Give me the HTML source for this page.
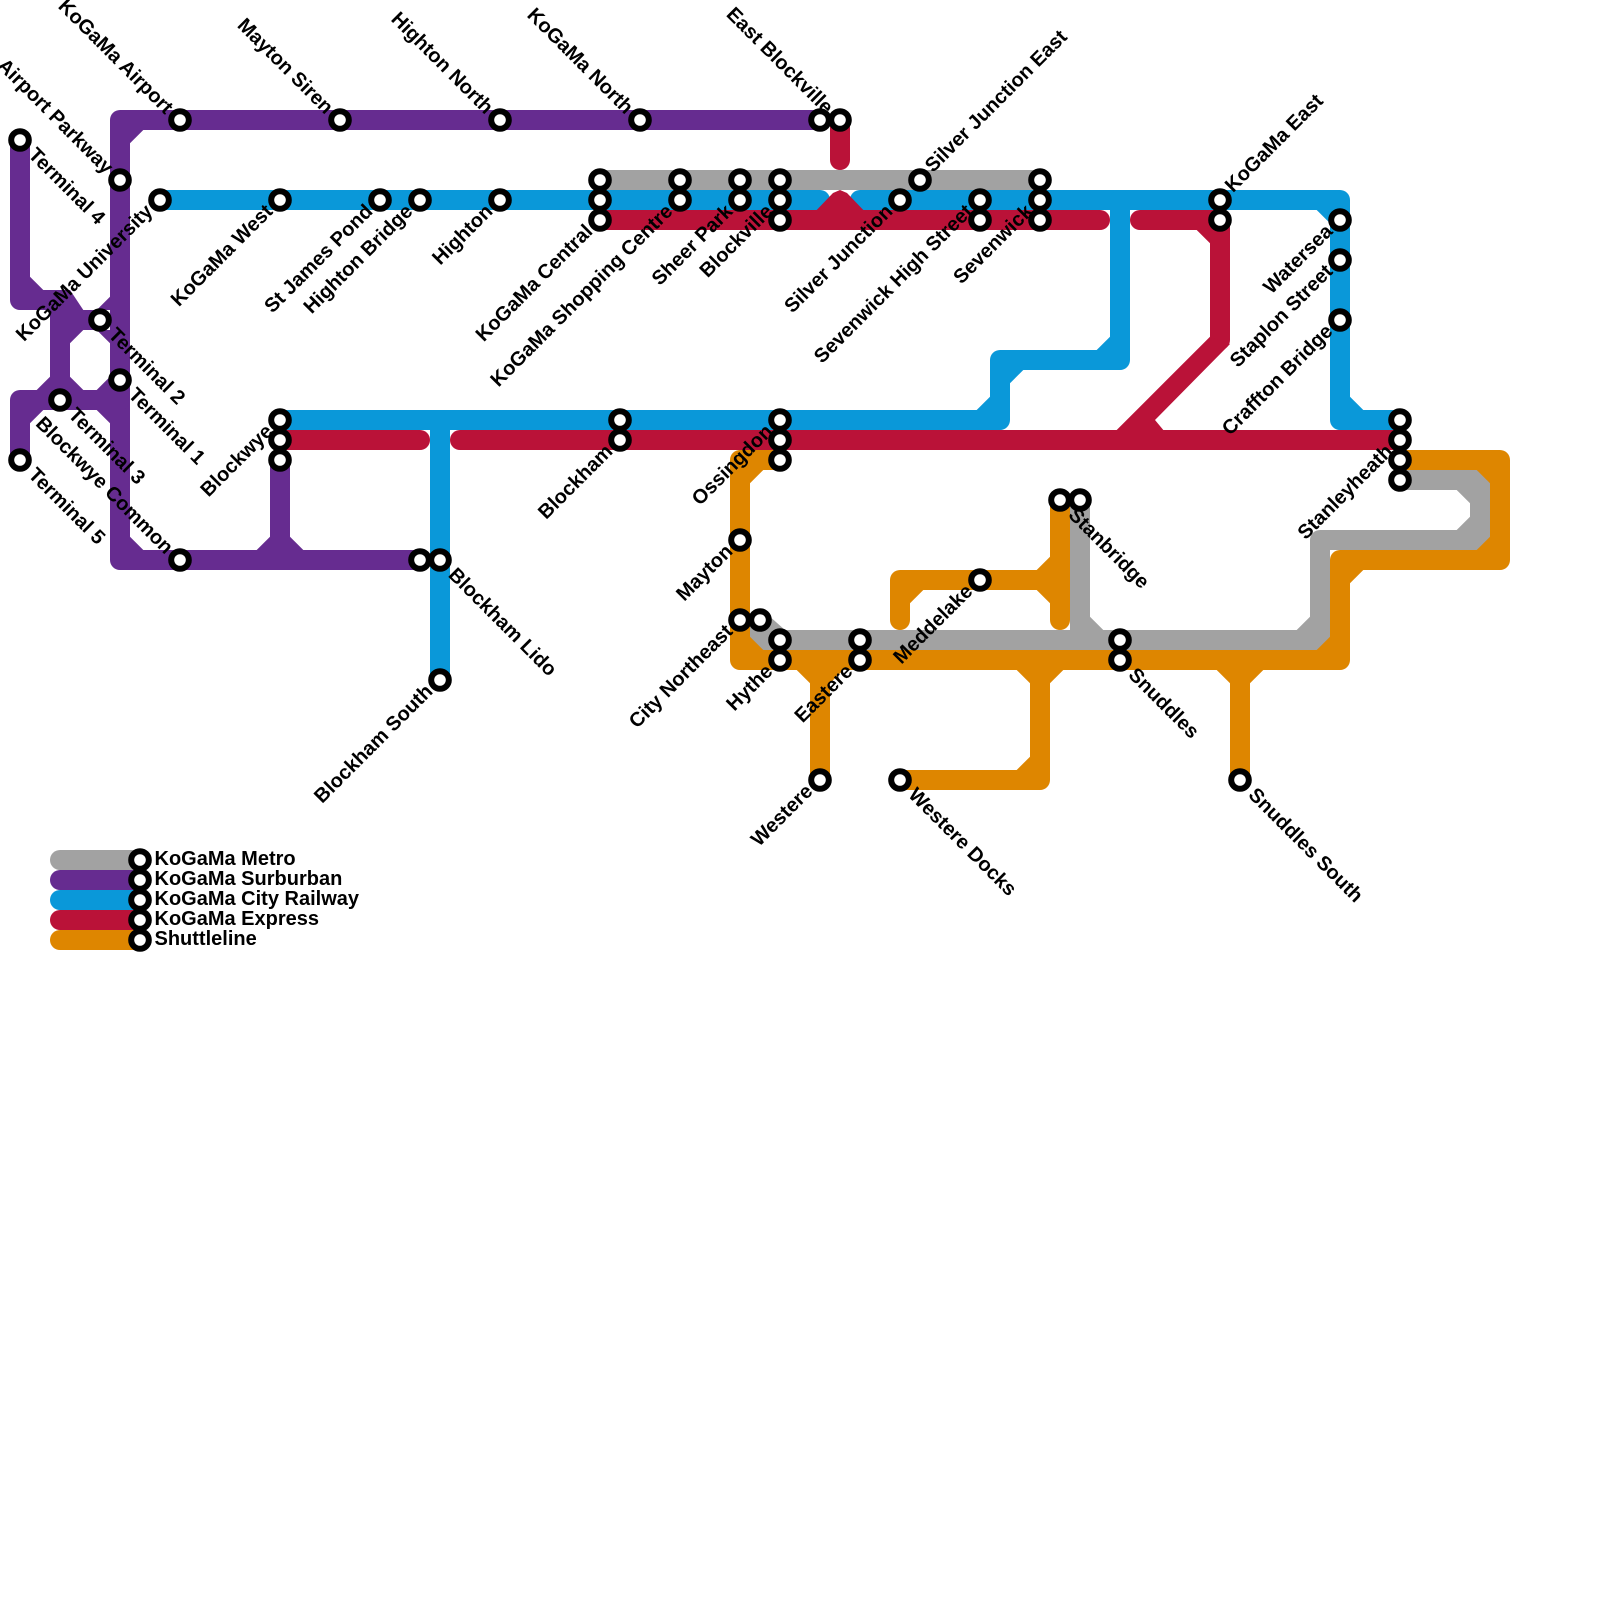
<!DOCTYPE html>
<html><head><meta charset="utf-8"><style>
html,body{margin:0;padding:0;background:#fff}
svg{display:block}
text{font-family:"Liberation Sans",sans-serif;font-weight:bold;font-size:20px;fill:#000}
.l{fill:none;stroke-width:20;stroke-linecap:round;stroke-linejoin:round}
.s circle{fill:#fff;stroke:#000;stroke-width:6}
</style></head><body>
<svg width="1600" height="1600" viewBox="0 0 1600 1600" xmlns="http://www.w3.org/2000/svg">
<rect width="1600" height="1600" fill="#fff"/>
<!-- gray -->
<g stroke="#a2a2a2" class="l">
<path d="M600 180H1040"/>
<path d="M780 640H1320V540H1480V480H1400"/>
<path d="M1080 500V640"/>
<path d="M60 860H140"/>
</g>
<g fill="#a2a2a2">
<polygon points="750,620 771.7,618.3 785,630 785,650 750,650"/>
<polygon points="1090,616.7 1103.3,630 1090,630"/>
<polygon points="1310,630 1310,616.7 1296.7,630"/>
<polygon points="1470,530 1456.7,530 1470,516.7"/>
<polygon points="1470,490 1456.7,490 1470,503.3"/>
</g>
<!-- purple -->
<g stroke="#662c90" class="l">
<path d="M820 120H120V560H420"/>
<path d="M20 140V300H60V400"/>
<path d="M60 320H100"/>
<path d="M20 460V400H120"/>
<path d="M280 460V560"/>
<path d="M60 880H140"/>
</g>
<g fill="#662c90">
<polygon points="130,130 130,143.3 143.3,130"/>
<polygon points="30,290 30,276.7 43.3,290"/>
<polygon points="60,290 70,290 83.3,310 60,310"/>
<polygon points="110,310 110,296.7 96.7,310"/>
<polygon points="70,330 83.3,330 70,343.3"/>
<polygon points="110,330 96.7,330 110,343.3"/>
<polygon points="70,390 70,376.7 83.3,390"/>
<polygon points="110,390 110,376.7 96.7,390"/>
<polygon points="50,390 50,376.7 36.7,390"/>
<polygon points="30,410 43.3,410 30,423.3"/>
<polygon points="110,410 96.7,410 110,423.3"/>
<polygon points="130,550 130,536.7 143.3,550"/>
<polygon points="270,550 270,536.7 256.7,550"/>
<polygon points="290,550 290,536.7 303.3,550"/>
</g>
<!-- blue -->
<g stroke="#0a98d9" class="l">
<path d="M160 200H820"/>
<path d="M860 200H1340V420H1400"/>
<path d="M1120 200V360H1000V420H280"/>
<path d="M440 420V680"/>
<path d="M60 900H140"/>
</g>
<g fill="#0a98d9">
<polygon points="1330,210 1316.7,210 1330,223.3"/>
<polygon points="1350,410 1350,396.7 1363.3,410"/>
<polygon points="1110,350 1110,336.7 1096.7,350"/>
<polygon points="1010,370 1010,383.3 1023.3,370"/>
<polygon points="990,410 990,396.7 976.7,410"/>
</g>
<!-- red -->
<g stroke="#ba1238" class="l">
<path d="M600 220H1100"/>
<path d="M1140 220H1220V340"/>
<path d="M280 440H420"/>
<path d="M460 440H1400"/>
<path d="M840 120V160"/>
<path d="M60 920H140"/>
</g>
<g fill="#ba1238">
<polygon points="816.7,210 833,193 840,190 847,193 863.3,210 863.3,230 816.7,230"/>
<polygon points="1210,230 1196.7,230 1210,243.3"/>
<polygon points="1210,336.7 1230,344 1155,420 1163.3,430 1116.7,430"/>
</g>
<!-- orange -->
<g stroke="#de8600" class="l">
<path d="M780 460H740V660H1340V560H1500V460H1400"/>
<path d="M820 660V780"/>
<path d="M1040 660V780H900"/>
<path d="M1240 660V780"/>
<path d="M900 620V580H1060"/>
<path d="M1060 500V620"/>
<path d="M60 940H140"/>
</g>
<g fill="#de8600">
<polygon points="750,470 750,483.3 763.3,470"/>
<polygon points="750,650 750,636.7 763.3,650"/>
<polygon points="796.7,670 810,683.3 810,670"/>
<polygon points="830,670 830,683.3 843.3,670"/>
<polygon points="1016.7,670 1030,683.3 1030,670"/>
<polygon points="1050,670 1050,683.3 1063.3,670"/>
<polygon points="1216.7,670 1230,683.3 1230,670"/>
<polygon points="1250,670 1250,683.3 1263.3,670"/>
<polygon points="1030,770 1030,756.7 1016.7,770"/>
<polygon points="910,590 910,603.3 923.3,590"/>
<polygon points="1050,570 1050,556.7 1036.7,570"/>
<polygon points="1050,590 1050,603.3 1036.7,590"/>
<polygon points="1330,650 1330,636.7 1316.7,650"/>
<polygon points="1350,570 1350,583.3 1363.3,570"/>
<polygon points="1490,470 1476.7,470 1490,483.3"/>
<polygon points="1490,550 1476.7,550 1490,536.7"/>
</g>
<!-- stations -->
<g class="s">
<circle cx="20" cy="140" r="8.8"/><circle cx="120" cy="180" r="8.8"/><circle cx="180" cy="120" r="8.8"/><circle cx="340" cy="120" r="8.8"/><circle cx="500" cy="120" r="8.8"/><circle cx="640" cy="120" r="8.8"/><circle cx="820" cy="120" r="8.8"/><circle cx="840" cy="120" r="8.8"/>
<circle cx="160" cy="200" r="8.8"/><circle cx="280" cy="200" r="8.8"/><circle cx="380" cy="200" r="8.8"/><circle cx="420" cy="200" r="8.8"/><circle cx="500" cy="200" r="8.8"/>
<circle cx="600" cy="180" r="8.8"/><circle cx="600" cy="200" r="8.8"/><circle cx="600" cy="220" r="8.8"/>
<circle cx="680" cy="180" r="8.8"/><circle cx="680" cy="200" r="8.8"/>
<circle cx="740" cy="180" r="8.8"/><circle cx="740" cy="200" r="8.8"/>
<circle cx="780" cy="180" r="8.8"/><circle cx="780" cy="200" r="8.8"/><circle cx="780" cy="220" r="8.8"/>
<circle cx="900" cy="200" r="8.8"/><circle cx="920" cy="180" r="8.8"/>
<circle cx="980" cy="200" r="8.8"/><circle cx="980" cy="220" r="8.8"/>
<circle cx="1040" cy="180" r="8.8"/><circle cx="1040" cy="200" r="8.8"/><circle cx="1040" cy="220" r="8.8"/>
<circle cx="1220" cy="200" r="8.8"/><circle cx="1220" cy="220" r="8.8"/>
<circle cx="1340" cy="220" r="8.8"/><circle cx="1340" cy="260" r="8.8"/><circle cx="1340" cy="320" r="8.8"/>
<circle cx="1400" cy="420" r="8.8"/><circle cx="1400" cy="440" r="8.8"/><circle cx="1400" cy="460" r="8.8"/><circle cx="1400" cy="480" r="8.8"/>
<circle cx="100" cy="320" r="8.8"/><circle cx="120" cy="380" r="8.8"/><circle cx="60" cy="400" r="8.8"/><circle cx="20" cy="460" r="8.8"/>
<circle cx="280" cy="420" r="8.8"/><circle cx="280" cy="440" r="8.8"/><circle cx="280" cy="460" r="8.8"/>
<circle cx="180" cy="560" r="8.8"/><circle cx="420" cy="560" r="8.8"/><circle cx="440" cy="560" r="8.8"/><circle cx="440" cy="680" r="8.8"/>
<circle cx="620" cy="420" r="8.8"/><circle cx="620" cy="440" r="8.8"/>
<circle cx="780" cy="420" r="8.8"/><circle cx="780" cy="440" r="8.8"/><circle cx="780" cy="460" r="8.8"/>
<circle cx="740" cy="540" r="8.8"/><circle cx="740" cy="620" r="8.8"/><circle cx="760" cy="620" r="8.8"/>
<circle cx="780" cy="640" r="8.8"/><circle cx="780" cy="660" r="8.8"/><circle cx="860" cy="640" r="8.8"/><circle cx="860" cy="660" r="8.8"/>
<circle cx="820" cy="780" r="8.8"/><circle cx="900" cy="780" r="8.8"/><circle cx="980" cy="580" r="8.8"/>
<circle cx="1060" cy="500" r="8.8"/><circle cx="1080" cy="500" r="8.8"/>
<circle cx="1120" cy="640" r="8.8"/><circle cx="1120" cy="660" r="8.8"/><circle cx="1240" cy="780" r="8.8"/>
<circle cx="140" cy="860" r="8.8"/><circle cx="140" cy="880" r="8.8"/><circle cx="140" cy="900" r="8.8"/><circle cx="140" cy="920" r="8.8"/><circle cx="140" cy="940" r="8.8"/>
</g>
<!-- labels -->
<g text-anchor="end">
<text transform="translate(180,120) rotate(45) translate(-14,0)" dy=".35em">KoGaMa Airport</text>
<text transform="translate(340,120) rotate(45) translate(-14,0)" dy=".35em">Mayton Siren</text>
<text transform="translate(500,120) rotate(45) translate(-14,0)" dy=".35em">Highton North</text>
<text transform="translate(640,120) rotate(45) translate(-14,0)" dy=".35em">KoGaMa North</text>
<text transform="translate(840,120) rotate(45) translate(-14,0)" dy=".35em">East Blockville</text>
<text transform="translate(120,180) rotate(45) translate(-14,0)" dy=".35em">Airport Parkway</text>
<text transform="translate(180,560) rotate(45) translate(-14,0)" dy=".35em">Blockwye Common</text>
</g>
<g>
<text transform="translate(20,140) rotate(45) translate(16.5,0)" dy=".3em">Terminal 4</text>
<text transform="translate(100,320) rotate(45) translate(16.5,0)" dy=".3em">Terminal 2</text>
<text transform="translate(120,380) rotate(45) translate(16.5,0)" dy=".3em">Terminal 1</text>
<text transform="translate(60,400) rotate(45) translate(16.5,0)" dy=".3em">Terminal 3</text>
<text transform="translate(20,460) rotate(45) translate(16.5,0)" dy=".3em">Terminal 5</text>
<text transform="translate(440,560) rotate(45) translate(16.5,0)" dy=".3em">Blockham Lido</text>
<text transform="translate(1060,500) rotate(45) translate(16.5,0)" dy=".3em">Stanbridge</text>
<text transform="translate(1120,660) rotate(45) translate(16.5,0)" dy=".3em">Snuddles</text>
<text transform="translate(900,780) rotate(45) translate(16.5,0)" dy=".3em">Westere Docks</text>
<text transform="translate(1240,780) rotate(45) translate(16.5,0)" dy=".3em">Snuddles South</text>
<text transform="translate(920,180) rotate(-45) translate(14,0)" dy=".22em">Silver Junction East</text>
<text transform="translate(1220,200) rotate(-45) translate(14,0)" dy=".22em">KoGaMa East</text>
</g>
<g text-anchor="end">
<text transform="translate(160,200) rotate(-45) translate(-13.3,0)" dy=".22em">KoGaMa University</text>
<text transform="translate(280,200) rotate(-45) translate(-13.3,0)" dy=".22em">KoGaMa West</text>
<text transform="translate(380,200) rotate(-45) translate(-13.3,0)" dy=".22em">St James Pond</text>
<text transform="translate(420,200) rotate(-45) translate(-13.3,0)" dy=".22em">Highton Bridge</text>
<text transform="translate(500,200) rotate(-45) translate(-13.3,0)" dy=".22em">Highton</text>
<text transform="translate(600,220) rotate(-45) translate(-13.3,0)" dy=".22em">KoGaMa Central</text>
<text transform="translate(680,200) rotate(-45) translate(-13.3,0)" dy=".22em">KoGaMa Shopping Centre</text>
<text transform="translate(740,200) rotate(-45) translate(-13.3,0)" dy=".22em">Sheer Park</text>
<text transform="translate(780,200) rotate(-45) translate(-13.3,0)" dy=".22em">Blockville</text>
<text transform="translate(900,200) rotate(-45) translate(-13.3,0)" dy=".22em">Silver Junction</text>
<text transform="translate(980,200) rotate(-45) translate(-13.3,0)" dy=".22em">Sevenwick High Street</text>
<text transform="translate(1040,200) rotate(-45) translate(-13.3,0)" dy=".22em">Sevenwick</text>
<text transform="translate(1340,220) rotate(-45) translate(-13.3,0)" dy=".22em">Watersea</text>
<text transform="translate(1340,260) rotate(-45) translate(-13.3,0)" dy=".22em">Staplon Street</text>
<text transform="translate(1340,320) rotate(-45) translate(-13.3,0)" dy=".22em">Craffton Bridge</text>
<text transform="translate(1400,440) rotate(-45) translate(-13.3,0)" dy=".22em">Stanleyheath</text>
<text transform="translate(280,420) rotate(-45) translate(-13.3,0)" dy=".22em">Blockwye</text>
<text transform="translate(620,440) rotate(-45) translate(-13.3,0)" dy=".22em">Blockham</text>
<text transform="translate(780,420) rotate(-45) translate(-13.3,0)" dy=".22em">Ossingdon</text>
<text transform="translate(740,540) rotate(-45) translate(-13.3,0)" dy=".22em">Mayton</text>
<text transform="translate(740,620) rotate(-45) translate(-13.3,0)" dy=".22em">City Northeast</text>
<text transform="translate(780,660) rotate(-45) translate(-13.3,0)" dy=".22em">Hythe</text>
<text transform="translate(860,660) rotate(-45) translate(-13.3,0)" dy=".22em">Eastere</text>
<text transform="translate(820,780) rotate(-45) translate(-13.3,0)" dy=".22em">Westere</text>
<text transform="translate(440,680) rotate(-45) translate(-13.3,0)" dy=".22em">Blockham South</text>
<text transform="translate(980,580) rotate(-45) translate(-13.3,0)" dy=".22em">Meddelake</text>
</g>
<text x="154.5" y="865">KoGaMa Metro</text>
<text x="154.5" y="885">KoGaMa Surburban</text>
<text x="154.5" y="905">KoGaMa City Railway</text>
<text x="154.5" y="925">KoGaMa Express</text>
<text x="154.5" y="945">Shuttleline</text>
</svg>
</body></html>
